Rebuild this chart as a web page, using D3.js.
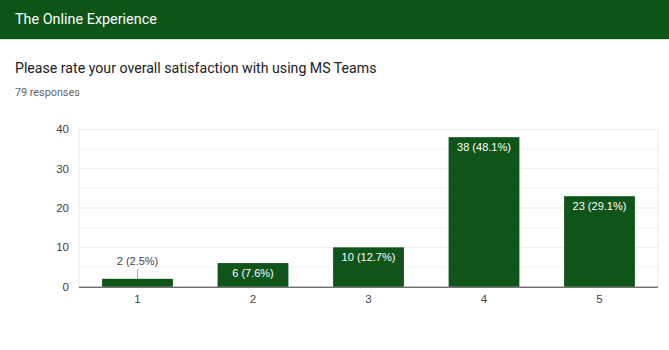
<!DOCTYPE html>
<html><head><meta charset="utf-8">
<script src="https://cdn.jsdelivr.net/npm/d3@7"></script>
<style>body{margin:0;background:#fff;}svg{display:block;font-family:Roboto,Arial,sans-serif;}.ch{font-family:"Liberation Sans",Arial,sans-serif;}</style>
</head><body><svg id="c" width="669" height="350"></svg>
<script>
const categories = ["1","2","3","4","5"];
const counts = [2, 6, 10, 38, 23];
const labels = ["2 (2.5%)","6 (7.6%)","10 (12.7%)","38 (48.1%)","23 (29.1%)"];
const yTicks = [0, 10, 20, 30, 40];
const minorTicks = [5, 15, 25, 35];

(function(){
const svg = d3.select("#c");
svg.append("rect").attr("x",0).attr("y",0).attr("width",669).attr("height",39).attr("fill","#0d5417");
svg.append("rect").attr("x",0).attr("y",39).attr("width",669).attr("height",1).attr("fill","#cfe3cf");
svg.append("text").attr("x",15).attr("y",24).attr("fill","#fff").attr("font-size",14.4).text("The Online Experience");
svg.append("text").attr("x",15).attr("y",73).attr("fill","#202124").attr("font-size",14.15).text("Please rate your overall satisfaction with using MS Teams");
svg.append("text").attr("x",15).attr("y",96).attr("fill","#5f6368").attr("font-size",10.8).text("79 responses");

const pLeft=79, pRight=658, pTop=129.3, pBottom=286.7;
const x = d3.scaleBand().domain(categories).range([pLeft,pRight]).paddingInner(0.387).paddingOuter(0.2);
const y = d3.scaleLinear().domain([0,40]).range([pBottom,pTop]);

const g = svg.append("g").attr("class","ch");
g.selectAll(".minor").data(minorTicks).join("line")
  .attr("x1",pLeft).attr("x2",pRight).attr("y1",d=>y(d)).attr("y2",d=>y(d))
  .attr("stroke","#f4f4f4").attr("stroke-width",1);
g.selectAll(".major").data(yTicks.filter(d=>d>0)).join("line")
  .attr("x1",pLeft).attr("x2",pRight).attr("y1",d=>y(d)).attr("y2",d=>y(d))
  .attr("stroke","#ebebeb").attr("stroke-width",1);
g.append("line").attr("x1",pLeft).attr("x2",pLeft).attr("y1",pTop).attr("y2",pBottom).attr("stroke","#ebebeb");
g.append("line").attr("x1",pRight).attr("x2",pRight).attr("y1",pTop).attr("y2",pBottom).attr("stroke","#ebebeb");

g.selectAll(".ytick").data(yTicks).join("text")
  .attr("x",69).attr("y",d=>y(d)+4).attr("text-anchor","end")
  .attr("font-size",11.5).attr("fill","#444").text(d=>d);

g.selectAll(".bar").data(counts).join("rect")
  .attr("x",(d,i)=>x(categories[i])).attr("width",x.bandwidth())
  .attr("y",d=>y(d)).attr("height",d=>y(0)-y(d)).attr("fill","#0f5419");

g.append("line").attr("x1",pLeft).attr("x2",pRight).attr("y1",pBottom+0.5).attr("y2",pBottom+0.5).attr("stroke","#333").attr("stroke-width",1);

g.selectAll(".xtick").data(categories).join("text")
  .attr("x",d=>x(d)+x.bandwidth()/2).attr("y",303).attr("text-anchor","middle")
  .attr("font-size",11.5).attr("fill","#444").text(d=>d);

counts.forEach((v,i)=>{
  const cx = x(categories[i])+x.bandwidth()/2;
  const h = y(0)-y(v);
  if (h > 18) {
    g.append("text").attr("x",cx).attr("y",y(v)+13.5).attr("text-anchor","middle")
      .attr("font-size",11).attr("fill","#fff").text(labels[i]);
  } else {
    g.append("line").attr("x1",cx).attr("x2",cx).attr("y1",y(v)).attr("y2",y(v)-10).attr("stroke","#aaa");
    g.append("text").attr("x",cx).attr("y",y(v)-14).attr("text-anchor","middle")
      .attr("font-size",11).attr("fill","#444").text(labels[i]);
  }
});
})();
</script></body></html>
